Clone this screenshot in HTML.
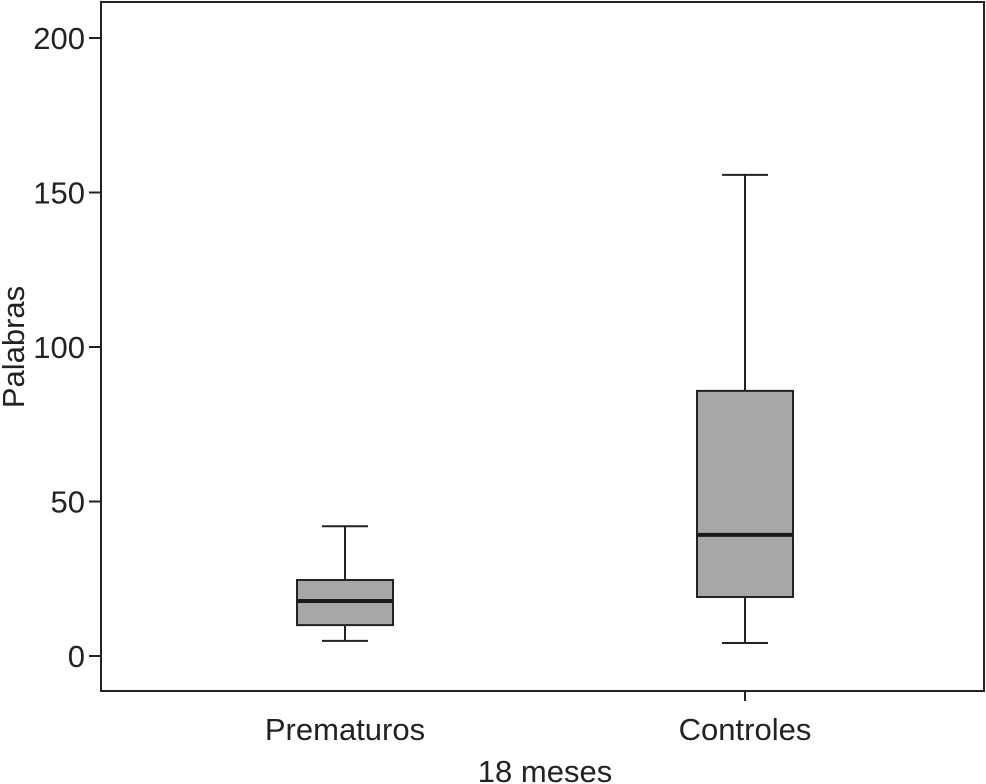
<!DOCTYPE html>
<html><head><meta charset="utf-8"><style>
body{margin:0;background:#fff}
svg{display:block}
text{font-family:"Liberation Sans Narrow","Liberation Sans",sans-serif;fill:#222;font-stretch:condensed}
</style></head><body>
<svg id="chart" width="986" height="784" viewBox="0 0 986 784"></svg>
<script>
const categories=["Prematuros","Controles"];
const mins=[4.9,4.2];
const q1s=[10,19.1];
const medians=[17.8,39.2];
const q3s=[24.6,85.8];
const maxs=[42,155.7];
const yTicks=[0,50,100,150,200];
const NS="http://www.w3.org/2000/svg";
const svg=document.getElementById('chart');
const L=101,R=984,T=2,B=691;
const y=v=>656-v*3.09;
const x=i=>345+i*400;
function el(t,a,p){const e=document.createElementNS(NS,t);for(const k in a)e.setAttribute(k,a[k]);(p||svg).appendChild(e);return e;}
const frame=el('rect',{x:L,y:T,width:R-L,height:B-T,fill:'none',stroke:'#222','stroke-width':2});


yTicks.forEach(v=>{
  const t=el('line',{x1:89,x2:L,y1:y(v),y2:y(v),stroke:'#222','stroke-width':2});
  
  
  const l=el('text',{x:85,y:y(v)+11,'text-anchor':'end','font-size':31});
  l.textContent=v;
  
  
});
categories.forEach((c,i)=>{
  const cx=x(i),hw=48,cw=23;
  const g=el('g',{});
  
  
  el('line',{x1:cx,x2:cx,y1:y(maxs[i]),y2:y(q3s[i]),stroke:'#222','stroke-width':2},g);
  el('line',{x1:cx,x2:cx,y1:y(q1s[i]),y2:y(mins[i]),stroke:'#222','stroke-width':2},g);
  el('line',{x1:cx-cw,x2:cx+cw,y1:y(maxs[i]),y2:y(maxs[i]),stroke:'#222','stroke-width':2},g);
  el('line',{x1:cx-cw,x2:cx+cw,y1:y(mins[i]),y2:y(mins[i]),stroke:'#222','stroke-width':2},g);
  el('rect',{x:cx-hw,y:y(q3s[i]),width:2*hw,height:y(q1s[i])-y(q3s[i]),fill:'#a7a7a9',stroke:'#222','stroke-width':2},g);
  el('line',{x1:cx-hw,x2:cx+hw,y1:y(medians[i]),y2:y(medians[i]),stroke:'#1a1a1a','stroke-width':4},g);
  if(i===1){el('line',{x1:cx,x2:cx,y1:B,y2:701,stroke:'#222','stroke-width':2});}
  const l=el('text',{x:cx,y:740,'text-anchor':'middle','font-size':31});
  l.textContent=c;
  
  
});
const xt=el('text',{x:545,y:782,'text-anchor':'middle','font-size':31});
xt.textContent='18 meses';


const yt=el('text',{x:0,y:0,'text-anchor':'middle','font-size':31,transform:'translate(24,347) rotate(-90)'});
yt.textContent='Palabras';


</script>
</body></html>
